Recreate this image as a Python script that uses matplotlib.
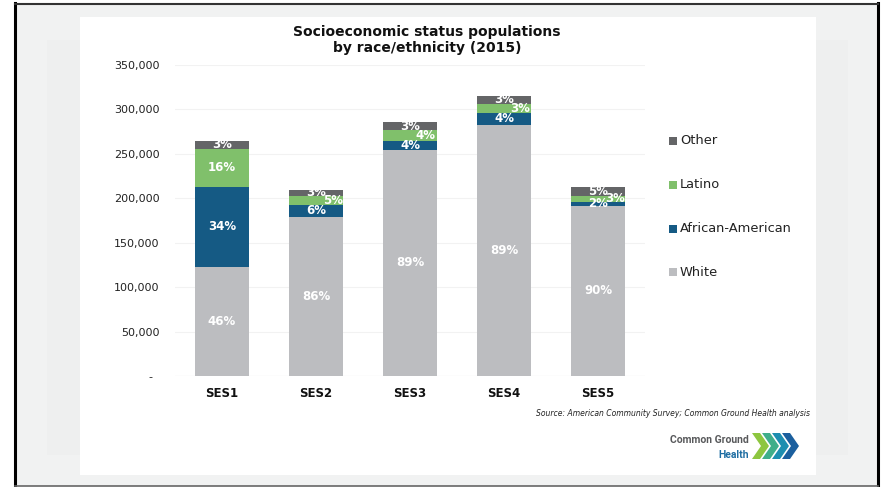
import numpy as np
import matplotlib
matplotlib.use("Agg")
import matplotlib.pyplot as plt
from matplotlib.patches import Rectangle, Polygon

# data (populations)
categories = ["SES1", "SES2", "SES3", "SES4", "SES5"]
white = [122700, 179500, 254500, 282600, 191400]
african_american = [90000, 12500, 10500, 13400, 4600]
latino = [43000, 10500, 11500, 10400, 6700]
other = [9000, 7000, 9500, 9000, 10100]

white_pct = ["46%", "86%", "89%", "89%", "90%"]
aa_pct = ["34%", "6%", "4%", "4%", "2%"]
latino_pct = ["16%", "5%", "4%", "3%", "3%"]
other_pct = ["3%", "3%", "3%", "3%", "5%"]

yticks = [0, 50000, 100000, 150000, 200000, 250000, 300000, 350000]
ytick_labels = ["-  ", "50,000", "100,000", "150,000", "200,000",
                "250,000", "300,000", "350,000"]

c_white = "#bcbdc0"
c_aa = "#155a84"
c_latino = "#80c06b"
c_other = "#646567"

W, H = 882, 487


def fx(px):
    return px / W


def fy(py):
    return 1 - py / H


fig = plt.figure(figsize=(8.82, 4.87), dpi=100)
fig.patch.set_facecolor("white")

# slide background and frame
fig.patches.append(Rectangle((fx(15), fy(486)), fx(863), 483 / H, transform=fig.transFigure,
                             facecolor="#f1f2f2", edgecolor="none", zorder=-3))
fig.patches.append(Rectangle((fx(47), fy(455)), fx(33), 415 / H, transform=fig.transFigure,
                             facecolor="#eeefef", edgecolor="none", zorder=-2))
fig.patches.append(Rectangle((fx(816), fy(455)), fx(32), 415 / H, transform=fig.transFigure,
                             facecolor="#eeefef", edgecolor="none", zorder=-2))
fig.patches.append(Rectangle((fx(80), fy(475)), fx(736), 458 / H, transform=fig.transFigure,
                             facecolor="white", edgecolor="none", zorder=-1))
fig.lines.append(plt.Line2D([fx(15), fx(15)], [fy(3), fy(486)], transform=fig.transFigure,
                            color="black", lw=2.2))
fig.lines.append(plt.Line2D([fx(878), fx(878)], [fy(3), fy(486)], transform=fig.transFigure,
                            color="black", lw=2.2))
fig.lines.append(plt.Line2D([fx(15), fx(878)], [fy(3.5), fy(3.5)], transform=fig.transFigure,
                            color="#333333", lw=1.5))
fig.lines.append(plt.Line2D([fx(15), fx(878)], [fy(486), fy(486)], transform=fig.transFigure,
                            color="#666666", lw=1.2))

ax = fig.add_axes([fx(175), fy(376), fx(470), 311 / H])
ax.set_zorder(2)
ax.set_facecolor("none")

x = np.arange(len(categories))
bw = 0.575
b1 = np.array(white)
b2 = b1 + np.array(african_american)
b3 = b2 + np.array(latino)

ax.bar(x, white, bw, color=c_white, zorder=2)
ax.bar(x, african_american, bw, bottom=b1, color=c_aa, zorder=2)
ax.bar(x, latino, bw, bottom=b2, color=c_latino, zorder=2)
ax.bar(x, other, bw, bottom=b3, color=c_other, zorder=2)

# latino labels nudged right where the segments are thin
lat_dx = [0, 0.18, 0.16, 0.17, 0.18]
lab = dict(color="white", fontsize=8.5, fontweight="bold", ha="center", va="center", zorder=3)
for i in range(len(categories)):
    ax.text(x[i], white[i] / 2, white_pct[i], **lab)
    ax.text(x[i], b1[i] + african_american[i] / 2, aa_pct[i], **lab)
    ax.text(x[i] + lat_dx[i], b2[i] + latino[i] / 2, latino_pct[i], **lab)
    ax.text(x[i], b3[i] + other[i] / 2, other_pct[i], **lab)

ax.set_xlim(-0.5, len(categories) - 0.5)
ax.set_ylim(0, 350000)
ax.set_yticks(yticks)
ax.set_yticklabels(ytick_labels, fontsize=8, color="#222222")
ax.set_xticks(x)
ax.set_xticklabels(categories, fontsize=8.5, fontweight="bold", color="#111111")
ax.tick_params(axis="y", length=0, pad=11)
ax.tick_params(axis="x", length=0, pad=8)
ax.grid(axis="y", color="#f2f2f2", lw=0.8, zorder=0)
for s in ax.spines.values():
    s.set_visible(False)
ax.axhline(0, color="#dcdcdc", lw=0.8, zorder=1)

fig.text(fx(427), fy(40), "Socioeconomic status populations\nby race/ethnicity (2015)",
         ha="center", va="center", fontsize=10, fontweight="bold", linespacing=1.25,
         color="#111111")

# legend
leg_names = ["Other", "Latino", "African-American", "White"]
leg_colors = [c_other, c_latino, c_aa, c_white]
leg_y = [141, 185, 229, 272]
for name, col, yy in zip(leg_names, leg_colors, leg_y):
    fig.patches.append(Rectangle((fx(669), fy(yy + 4)), fx(8), 8 / H, transform=fig.transFigure,
                                 facecolor=col, edgecolor="none"))
    fig.text(fx(680), fy(yy), name, ha="left", va="center", fontsize=9.4, color="#222222")

fig.text(fx(810), fy(414), "Source: American Community Survey; Common Ground Health analysis",
         ha="right", va="center", fontsize=5.5, style="italic", color="#222222")

# logo
fig.text(fx(749), fy(440), "Common Ground", ha="right", va="center", fontsize=7.5,
         family="Roboto", fontweight="bold", color="#58595b")
fig.text(fx(749), fy(455), "Health", ha="right", va="center", fontsize=7.5,
         family="Roboto", fontweight="bold", color="#1f6ea3")
chev_colors = ["#8dc63f", "#3fae8a", "#1d8eb0", "#1b5f9e"]
for k, col in enumerate(chev_colors):
    x0 = 752 + 10 * k
    pts = [(x0, 433), (x0 + 8, 433), (x0 + 17, 446), (x0 + 8, 459), (x0, 459), (x0 + 9, 446)]
    fig.patches.append(Polygon([(fx(a), fy(b)) for a, b in pts], closed=True,
                               transform=fig.transFigure, facecolor=col, edgecolor="none"))

fig.savefig("out.png", dpi=100)
